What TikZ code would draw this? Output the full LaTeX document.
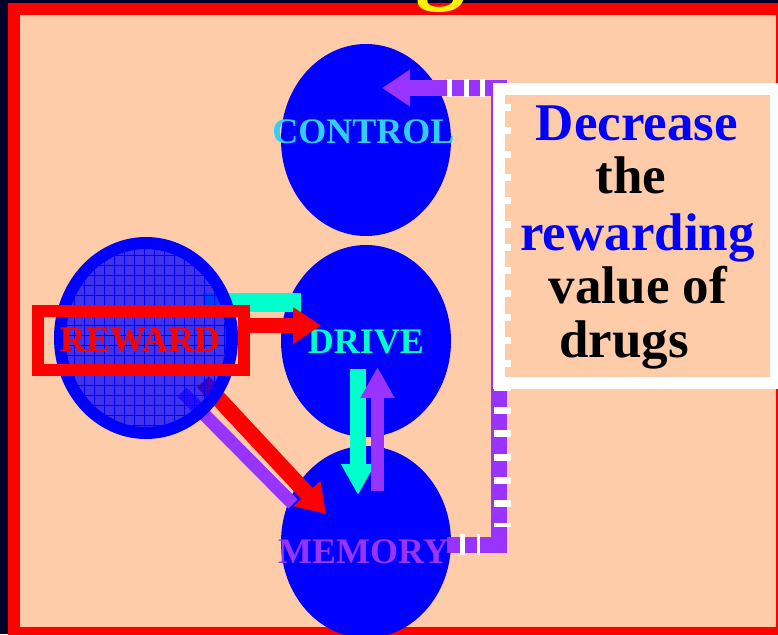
\documentclass[tikz,border=0pt]{standalone}
\usepackage{fontspec}
\setmainfont{Liberation Serif}
\usepackage{tikz}
\usetikzlibrary{shapes.geometric, arrows.meta, calc}
\definecolor{navy}{RGB}{0,0,40}
\definecolor{peach}{RGB}{255,204,170}
\definecolor{skyblue}{RGB}{51,204,255}
\definecolor{aqua}{RGB}{0,255,204}
\definecolor{mempurple}{RGB}{153,51,255}
\def\tagfont{\fontsize{36pt}{36pt}\selectfont\bfseries}
\def\boxfont{\fontsize{53pt}{54pt}\selectfont\bfseries}

\begin{document}
\begin{tikzpicture}[x=1pt, y=-1pt,
    blob/.style={ellipse, fill=blue, inner sep=0pt, minimum width=170pt, minimum height=192pt},
    tag/.style={anchor=base, font=\tagfont},
    boxline/.style={anchor=base, font=\boxfont},
    gridline/.style={draw=blue, line width=0.8pt},
    bighead/.tip={Triangle[length=28pt, width=35pt]},
    slimhead/.tip={Triangle[length=31pt, width=32pt]},
    feedback/.style={draw=mempurple, line width=16pt, -bighead},
    whitedash/.style={draw=white, line width=#1, dash pattern=on 5pt off 11.5pt},
    whitetick/.style={draw=white, line width=17pt, dash pattern=on 7pt off 16.3pt}]
  \useasboundingbox (0,0) rectangle (778,634);
  \clip (0,0) rectangle (778,634);
  \fill[navy] (0,0) rectangle (778,634);
  \fill[red] (8,3) rectangle (790,640);
  \fill[peach] (20,15) rectangle (776,627);
  \node[anchor=base, text=yellow, font=\fontsize{100pt}{100pt}\selectfont\bfseries] (titleg) at (440,-9) {g};

  \foreach \name/\y in {control/140, drive/341, memory/542}{
    \node[blob] (\name) at (366,\y) {};
  }
  \node[tag, text=skyblue] (controltag) at (363.5,143) {CONTROL};
  \node[tag, text=aqua] (drivetag) at (366,353) {DRIVE};
  \node[tag, text=mempurple] (memorytag) at (363.5,563) {MEMORY};

  \node[ellipse, inner sep=0pt, minimum width=172pt, minimum height=190pt] (reward) at (146,338) {};
  \draw[aqua, line width=19pt] ($(reward.center)+(57,-35.5)$) -- ($(drive.center)+(-65,-38.5)$);
  \draw[mempurple, line width=13pt] ($(reward.center)+(36,54)$) -- ($(memory.center)+(-73,-38)$);
  \draw[red, line width=16pt, -bighead] ($(reward.center)+(57,44)$) -- ($(memory.center)+(-40,-28)$);
  \draw[aqua, line width=16pt, -slimhead] ($(drive.center)+(-8,28)$) -- ($(memory.center)+(-8,-47)$);
  \draw[mempurple, line width=13pt, -slimhead] ($(memory.center)+(11.5,-51)$) -- ($(drive.center)+(11.5,26)$);

  \fill[blue, fill opacity=0.75] (reward.center) ellipse [x radius=86, y radius=95];
  \begin{scope}
    \clip (reward.center) ellipse [x radius=80, y radius=89];
    \foreach \gx in {64,74,...,234}
      \draw[gridline] (\gx,240) -- (\gx,440);
    \foreach \gy in {245,255,...,435}
      \draw[gridline] (50,\gy) -- (240,\gy);
  \end{scope}
  \draw[blue, line width=12pt] (reward.center) ellipse [x radius=86, y radius=95];

  \node[draw=red, line width=12pt, inner sep=0pt, minimum width=206pt, minimum height=59pt] (rewardbox) at (141,340.5) {};
  \node[tag, text=red] (rewardtag) at (140,351) {REWARD};
  \draw[red, line width=15pt, -bighead] ($(rewardbox.east)+(0,-15)$) -- ($(drive.center)+(-45,-15.5)$);

  \draw[feedback] ($(memory.center)+(81,2.5)$) -- ++(52,0) |- ($(control.center)+(16,-52)$);
  \draw[whitedash=18pt] ($(control.center)+(81,-52)$) -- ++(40,0);
  \draw[whitedash=21pt] ($(memory.center)+(94,2.5)$) -- ++(20,0);

  \node[draw=white, fill=peach, line width=12pt, inner sep=0pt, minimum width=277pt, minimum height=293.5pt] (textbox) at (637.5,235.75) {};
  \draw[whitetick] ($(memory.center)+(136,-438)$) -- ($(memory.center)+(136,-15)$);
  \node[boxline, text=blue] (line1) at (637,140) {Decrease};
  \node[boxline] (line2) at (631,193) {the};
  \node[boxline, text=blue] (line3) at (637.5,250) {rewarding};
  \node[boxline] (line4) at (638,303) {value of};
  \node[boxline] (line5) at (624,357) {drugs};
\end{tikzpicture}
\end{document}
